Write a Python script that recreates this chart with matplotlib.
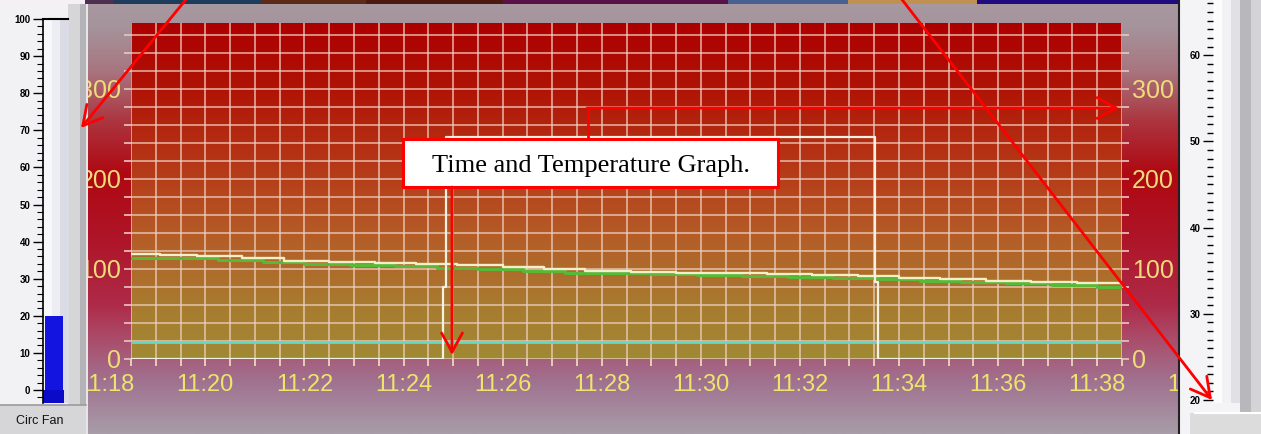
import matplotlib
matplotlib.use("Agg")
import matplotlib.pyplot as plt
import matplotlib.dates as mdates
from matplotlib.patches import Rectangle
from matplotlib.transforms import blended_transform_factory
from matplotlib.colors import LinearSegmentedColormap
from matplotlib.ticker import MultipleLocator, NullFormatter
from datetime import datetime
import numpy as np

DAY = "2010-01-01 "


def t(s):
    if s.count(":") == 1:
        s = s + ":00"
    return mdates.date2num(datetime.strptime(DAY + s, "%Y-%m-%d %H:%M:%S"))


# ---- chart data ----
x_start = "11:18:30"
x_end = "11:38:30"
x_label_times = ["11:18", "11:20", "11:22", "11:24", "11:26", "11:28",
                 "11:30", "11:32", "11:34", "11:36", "11:38", "11:40"]

light_times = ["11:18:30", "11:19:05", "11:19:50", "11:20:45", "11:21:35",
               "11:22:30", "11:23:25", "11:24:15", "11:25:05", "11:26:00",
               "11:26:50", "11:27:40", "11:28:35", "11:29:30", "11:30:25",
               "11:31:20", "11:32:15", "11:33:10", "11:34:00", "11:34:50",
               "11:35:45", "11:36:40", "11:37:35", "11:38:30"]
light_values = [117, 116, 114, 112, 109, 108, 107, 105, 104, 102, 100, 98,
                97, 96, 95, 94, 93, 92, 90, 89, 87, 86, 84, 83]

green_times = ["11:18:30", "11:19:30", "11:20:15", "11:21:10", "11:22:00",
               "11:22:55", "11:23:50", "11:24:40", "11:25:30", "11:26:25",
               "11:27:15", "11:28:05", "11:29:00", "11:29:55", "11:30:50",
               "11:31:45", "11:32:40", "11:33:35", "11:34:25", "11:35:15",
               "11:36:10", "11:37:05", "11:38:00", "11:38:30"]
green_values = [112, 112, 110, 108, 106, 104, 103, 101, 100, 98, 96, 95,
                94, 93, 92, 91, 90, 89, 87, 85, 84, 82, 80, 79]

cyan_times = ["11:18:30", "11:38:30"]
cyan_values = [19, 19]

pulse_times = ["11:18:30", "11:24:48", "11:24:52", "11:33:31", "11:33:35", "11:38:30"]
pulse_values = [0, 80, 247, 85, 0, 0]

y_max = 373

fan_value = 20
fan_ticks = list(range(0, 101, 10))
temp_gauge_ticks = [20, 30, 40, 50, 60]

W, H = 1261, 434
fig = plt.figure(figsize=(W / 100, H / 100), dpi=100)


def rect(x0, y0, x1, y1):
    # pixel box (top-left origin) -> figure fraction
    return [x0 / W, (H - y1) / H, (x1 - x0) / W, (y1 - y0) / H]


def vgrad(stops):
    cm = LinearSegmentedColormap.from_list(
        "g", [(p, np.array(c) / 255) for p, c in stops])
    return cm(np.linspace(0, 1, 256))[:, None, :3]


# outer frame gradient
bg = fig.add_axes([0, 0, 1, 1], zorder=0)
bg.imshow(vgrad([(0.0, (168, 152, 160)), (0.06, (165, 148, 156)),
                 (0.16, (168, 118, 128)), (0.28, (172, 52, 62)),
                 (0.40, (176, 8, 18)), (0.56, (174, 22, 42)),
                 (0.70, (174, 42, 72)), (0.78, (170, 76, 106)),
                 (0.88, (160, 114, 144)), (1.0, (168, 156, 168))]),
          aspect="auto", extent=[0, 1, 0, 1])
bg.set_xlim(0, 1)
bg.set_ylim(0, 1)
bg.axis("off")

# plot area gradient
pos = rect(131, 23, 1122, 359)
pa = fig.add_axes(pos, zorder=1)
pa.imshow(vgrad([(0.0, (172, 0, 0)), (0.2, (176, 20, 6)),
                 (0.45, (182, 60, 25)), (0.65, (180, 95, 40)),
                 (0.85, (168, 124, 48)), (1.0, (160, 138, 52))]),
          aspect="auto", extent=[0, 1, 0, 1])
pa.set_xlim(0, 1)
pa.set_ylim(0, 1)
pa.axis("off")

ax = fig.add_axes(pos, zorder=2)
ax.patch.set_alpha(0)
ax.set_xlim(t(x_start), t(x_end))
ax.set_ylim(0, y_max)

ax.plot([t(s) for s in green_times], green_values, drawstyle="steps-post",
        color="#58b838", lw=2.2, zorder=3)
ax.plot([t(s) for s in light_times], light_values, drawstyle="steps-post",
        color="#f2f0c8", lw=1.7, zorder=4)
ax.plot([t(s) for s in cyan_times], cyan_values, color="#66d8c8", lw=2.0, zorder=3)
ax.plot([t(s) for s in pulse_times], pulse_values, drawstyle="steps-post",
        color="#f4f0e2", lw=1.6, zorder=5)

ax.xaxis.set_major_locator(mdates.SecondLocator(bysecond=[0, 30]))
ax.xaxis.set_major_formatter(NullFormatter())
ax.yaxis.set_major_locator(MultipleLocator(100))
ax.yaxis.set_minor_locator(MultipleLocator(20))
ax.grid(which="both", color="#eed2c4", lw=1.1, alpha=0.85)
ax.set_axisbelow(True)
for sp in ax.spines.values():
    sp.set_visible(False)

ax.tick_params(axis="x", which="both", length=5, width=1.2, color="#f0e0c0",
               labelbottom=False)
ax.tick_params(axis="y", which="both", left=True, right=True, labelleft=True,
               labelright=True, length=5, width=1.2, color="#e8c8c0",
               labelsize=18, labelcolor="#eedc7c", pad=2)
for lab in ax.get_yticklabels():
    lab.set_family("Liberation Sans")

tr = blended_transform_factory(ax.transData, ax.transAxes)
for s in x_label_times:
    ax.text(t(s), -0.078, s, transform=tr, ha="center", va="center",
            fontsize=17, color="#ede46c", family="Liberation Sans", clip_on=False)

# ---- left gauge panel ----
lp = fig.add_axes([0, 0, 1, 1], zorder=5)
lp.set_xlim(0, W)
lp.set_ylim(H, 0)
lp.axis("off")
lp.patch.set_alpha(0)
lp.add_patch(Rectangle((0, 0), 86, 405, fc="#f2f2f4", ec="none"))
lp.add_patch(Rectangle((68, 0), 12, 405, fc="#d6d6d9", ec="none"))
lp.add_patch(Rectangle((80, 0), 6, 405, fc="#b4b4b8", ec="none"))
lp.add_patch(Rectangle((86, 0), 2, 434, fc="#e6e6e6", ec="none"))
lp.add_patch(Rectangle((0, 405), 86, 29, fc="#d6d6d8", ec="none"))
lp.plot([0, 86], [405, 405], color="#9a9a9a", lw=1.2)
lp.text(40, 421, "Circ Fan", ha="center", va="center", fontsize=9,
        family="Liberation Sans", color="#101010")

fan = fig.add_axes(rect(43, 19, 68, 403), zorder=6)
fan.imshow(np.array([[[0.97, 0.97, 0.99], [0.93, 0.93, 0.96], [0.86, 0.86, 0.9]]]),
           aspect="auto", extent=[0, 1, -3.5, 100])
fan.bar(0.45, fan_value + 3.5, bottom=-3.5, width=0.72, color="#1414e0")
fan.bar(0.4, 3.5, bottom=-3.5, width=0.85, color="#0a0ac8")
fan.set_xlim(0, 1)
fan.set_ylim(-3.5, 100)
fan.set_yticks(fan_ticks)
fan.yaxis.set_minor_locator(MultipleLocator(2))
fan.set_xticks([])
for k in ["right", "bottom"]:
    fan.spines[k].set_visible(False)
fan.spines["left"].set_linewidth(1.2)
fan.spines["top"].set_linewidth(1.5)
fan.tick_params(axis="y", which="major", length=7, width=1, labelsize=7, pad=2)
fan.tick_params(axis="y", which="minor", length=4, width=0.8)
for lab in fan.get_yticklabels():
    lab.set_fontweight("bold")
    lab.set_family("Liberation Sans")

# ---- right gauge panel ----
rp = lp
rp.add_patch(Rectangle((1178, 0), 83, 434, fc="#f4f4f6", ec="none"))
rp.add_patch(Rectangle((1240, 0), 11, 413, fc="#b8b8bc", ec="none"))
rp.add_patch(Rectangle((1251, 0), 10, 413, fc="#d4d4d6", ec="none"))
rp.add_patch(Rectangle((1190, 413), 71, 21, fc="#dcdcdc", ec="none"))
rp.plot([1178.5, 1178.5], [0, 434], color="#202020", lw=1.5)
rp.plot([1195, 1261], [413, 413], color="#ffffff", lw=1.5)

tg = fig.add_axes(rect(1213, 0, 1240, 403), zorder=6)
tg.imshow(np.array([[[0.99, 0.99, 0.99], [0.95, 0.95, 0.96], [0.88, 0.88, 0.9]]]),
          aspect="auto", extent=[0, 1, 19.65, 66.4])
tg.set_xlim(0, 1)
tg.set_ylim(19.65, 66.4)
tg.set_yticks(temp_gauge_ticks)
tg.yaxis.set_minor_locator(MultipleLocator(1))
tg.set_xticks([])
for k in ["right", "bottom", "top", "left"]:
    tg.spines[k].set_visible(False)
tg.tick_params(axis="y", which="major", length=7, width=1, labelsize=7, pad=2)
tg.tick_params(axis="y", which="minor", length=4, width=1)
for lab in tg.get_yticklabels():
    lab.set_fontweight("bold")
    lab.set_family("Liberation Sans")

# ---- top tab strip ----
ov = fig.add_axes([0, 0, 1, 1], zorder=10)
ov.set_xlim(0, W)
ov.set_ylim(H, 0)
ov.axis("off")
ov.patch.set_alpha(0)
tabs = [(0, 85, "#f4f0f4"), (85, 113, "#503050"), (113, 261, "#1e3c5c"),
        (261, 366, "#5c2a18"), (366, 503, "#4c1a10"), (503, 728, "#5a1048"),
        (728, 848, "#4a6090"), (848, 977, "#c09050"), (977, 1178, "#200c80")]
for a, b, c in tabs:
    ov.add_patch(Rectangle((a, 0), b - a, 3.5, fc=c, ec="none"))

# ---- red annotations ----
red = "#ff0000"
astyle = "->,head_length=0.55,head_width=0.3"
ov.annotate("", xy=(81, 128), xytext=(188, -3),
            arrowprops=dict(arrowstyle=astyle, color=red, lw=2.0,
                            mutation_scale=25, shrinkA=0, shrinkB=0))
ov.annotate("", xy=(1212, 400), xytext=(900, -3),
            arrowprops=dict(arrowstyle=astyle, color=red, lw=2.0,
                            mutation_scale=25, shrinkA=0, shrinkB=0))
ov.plot([588, 588], [140, 108], color=red, lw=2.0, solid_capstyle="butt")
ov.annotate("", xy=(1119, 108), xytext=(587, 108),
            arrowprops=dict(arrowstyle=astyle, color=red, lw=2.0,
                            mutation_scale=25, shrinkA=0, shrinkB=0))
ov.annotate("", xy=(452, 355), xytext=(452, 187),
            arrowprops=dict(arrowstyle=astyle, color=red, lw=2.0,
                            mutation_scale=25, shrinkA=0, shrinkB=0))
ov.add_patch(Rectangle((403, 139), 375, 48, fc="white", ec=red, lw=2.2))
ov.text(590.5, 166, "Time and Temperature Graph.", ha="center", va="center",
        fontsize=19, family="Liberation Serif", color="black")

fig.savefig("out.png", dpi=100)
